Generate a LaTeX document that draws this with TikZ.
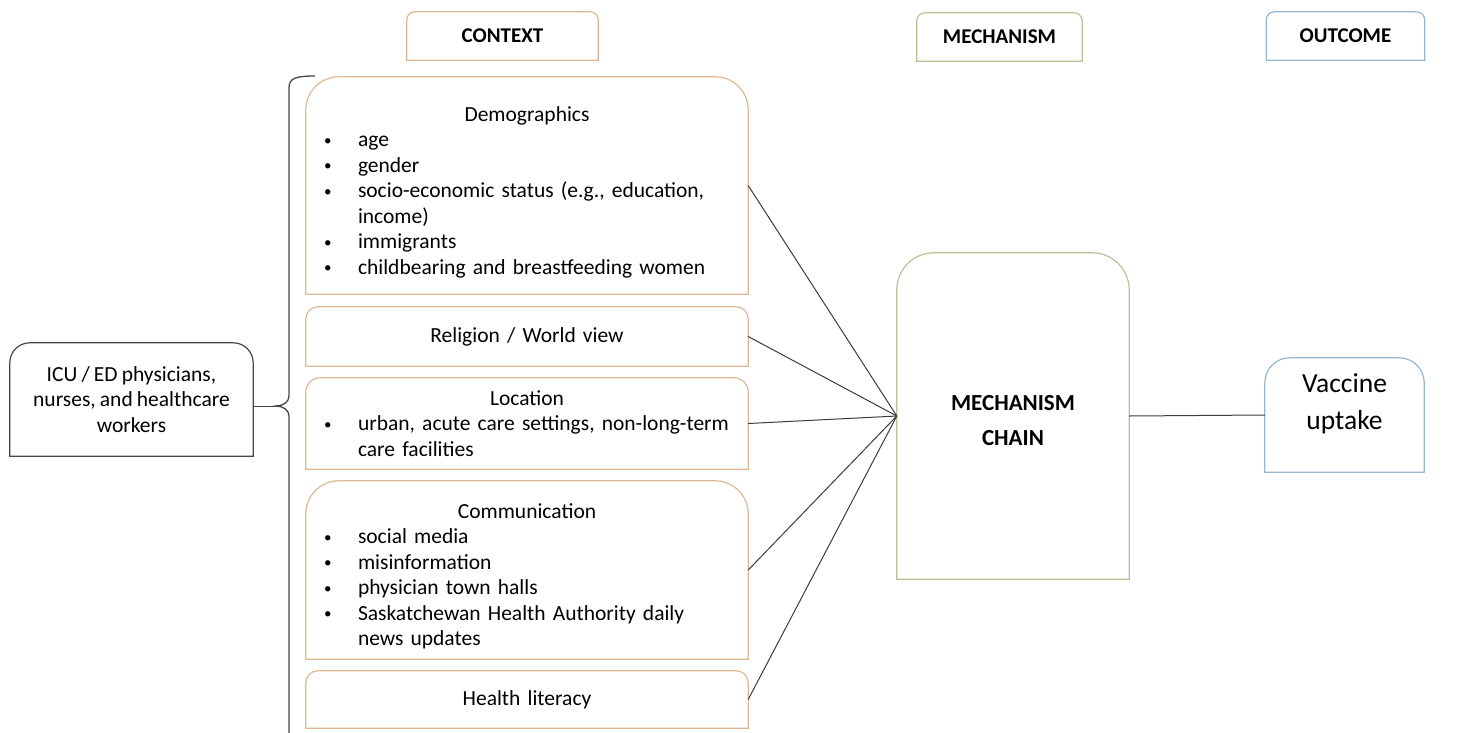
\documentclass[tikz,border=0pt]{standalone}
\usepackage{fontspec}
\setmainfont{Carlito}[WordSpace={0.85,0.5,0.3}]
\definecolor{ctxc}{RGB}{222,184,148}
\definecolor{mechc}{RGB}{178,196,150}
\definecolor{outc}{RGB}{150,182,214}
\definecolor{icuc}{RGB}{70,70,70}
\definecolor{lnc}{RGB}{60,60,60}
\newcommand\bul{\makebox[36pt][l]{\hspace*{2pt}\raisebox{1.5pt}{\fontsize{15}{15}\selectfont\textbullet}}}
\newcommand\ind{\hspace*{36pt}}
\newcommand\rtbox[3]{\draw[#3] (#1.south west) -- ([yshift=-#2]#1.north west) arc[start angle=180,end angle=90,radius=#2] -- ([xshift=-#2]#1.north east) arc[start angle=90,end angle=0,radius=#2] -- (#1.south east) -- cycle;}
\tikzset{
  base/.style={inner sep=0pt, font=\fontsize{21.5}{25.5}\selectfont},
  cbox/.style={base, minimum width=442pt, text width=410pt, align=left},
  hdr/.style={inner sep=0pt, font=\bfseries\fontsize{21}{24}\selectfont},
  ctxline/.style={draw=ctxc, line width=1.2pt},
  mechline/.style={draw=mechc, line width=1.2pt},
  outline/.style={draw=outc, line width=1.2pt},
  iculine/.style={draw=icuc, line width=1.2pt},
  conn/.style={draw=lnc, line width=1pt},
}
\begin{document}
\begin{tikzpicture}[x=1pt,y=-1pt]
\useasboundingbox (0,0) rectangle (1460,732);
% headers
\node[hdr, minimum width=191pt, minimum height=48pt] (hctx) at (502.5,36) {CONTEXT};
\node[hdr, minimum width=165pt, minimum height=48pt] (hmech) at (999.5,37) {MECHANISM};
\node[hdr, minimum width=158pt, minimum height=48pt] (hout) at (1345.5,36) {OUTCOME};
\rtbox{hctx}{8pt}{ctxline}
\rtbox{hmech}{8pt}{mechline}
\rtbox{hout}{8pt}{outline}
% ICU box
\node[base, minimum width=243pt, minimum height=113pt, align=center] (icu) at (131.5,399.5) {ICU / ED physicians,\\ nurses, and healthcare\\ workers};
\rtbox{icu}{20pt}{iculine}
% context boxes
\node[cbox, minimum height=217pt] (demo) at (527,185.5) {\rule{0pt}{28pt}\makebox[\linewidth]{Demographics}\\
\bul age\\ \bul gender\\ \bul socio-economic status (e.g., education,\\ \ind income)\\ \bul immigrants\\ \bul childbearing and breastfeeding women};
\rtbox{demo}{33pt}{ctxline}
\node[cbox, minimum height=59pt] (rel) at (527,336.5) {\makebox[\linewidth]{Religion / World view}};
\rtbox{rel}{12pt}{ctxline}
\node[cbox, minimum height=91pt] (loc) at (527,423.5) {\makebox[\linewidth]{Location}\\
\bul urban, acute care settings, non-long-term\\ \ind care facilities};
\rtbox{loc}{14pt}{ctxline}
\node[cbox, minimum height=178pt] (com) at (527,570) {\rule{0pt}{27pt}\makebox[\linewidth]{Communication}\\
\bul social media\\ \bul misinformation\\ \bul physician town halls\\ \bul Saskatchewan Health Authority daily\\ \ind news updates};
\rtbox{com}{33pt}{ctxline}
\node[cbox, minimum height=57pt] (hl) at (527,699.5) {\makebox[\linewidth]{Health literacy}};
\rtbox{hl}{12pt}{ctxline}
% mechanism chain
\node[inner sep=0pt, minimum width=232pt, minimum height=326pt, align=center, font=\bfseries\fontsize{23}{35}\selectfont] (mc) at (1013,416) {\rule{0pt}{24pt}MECHANISM\\ CHAIN};
\rtbox{mc}{37pt}{mechline}
% outcome
\node[inner sep=0pt, minimum width=159pt, minimum height=114pt, align=center, font=\fontsize{27.5}{37}\selectfont] (vu) at (1344.5,415) {Vaccine\\ uptake\rule[-26pt]{0pt}{26pt}};
\rtbox{vu}{25pt}{outline}
% brace
\coordinate (tip) at (276,406);
\draw[draw=icuc, line width=1.3pt] (315,76) .. controls (296,76) and (289,78) .. (289,88) -- (289,396) .. controls (289,402) and (283,406) .. (tip) .. controls (283,406) and (289,410) .. (289,416) -- (289,740);
\draw[conn] (icu.east |- tip) -- (tip);
% connectors
\foreach \n in {demo,rel,loc,com,hl} \draw[conn] (\n.east) -- (mc.west);
\draw[conn] (mc.east) -- (vu.west);
\end{tikzpicture}
\end{document}
